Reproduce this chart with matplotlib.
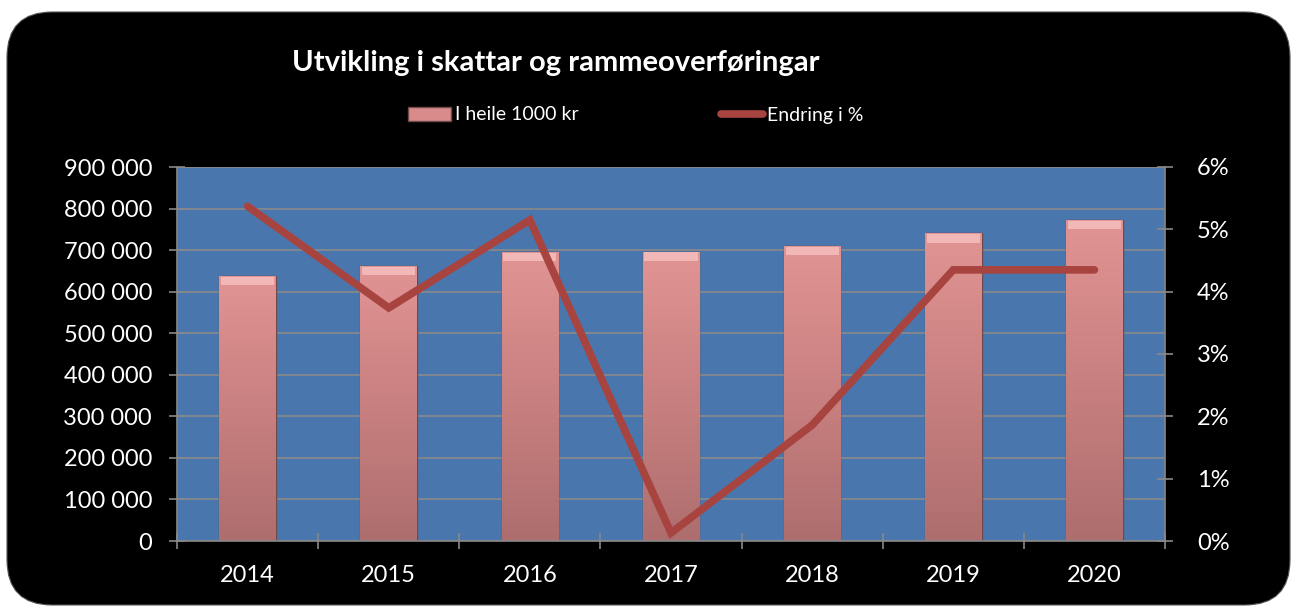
import matplotlib.pyplot as plt
import numpy as np
from matplotlib.patches import FancyBboxPatch
from matplotlib.lines import Line2D
from matplotlib.colors import LinearSegmentedColormap

years = ['2014', '2015', '2016', '2017', '2018', '2019', '2020']
amount = [637700, 661500, 695600, 696500, 709500, 740300, 772500]
change = [5.37, 3.74, 5.15, 0.13, 1.86, 4.35, 4.35]

plt.rcParams['font.family'] = ['Lato', 'DejaVu Sans']

fig = plt.figure(figsize=(12.93, 6.08), dpi=100)
fig.patch.set_facecolor('white')

# black rounded card behind everything
card = FancyBboxPatch((7/1293, 3/608), 1283/1293, 593/608,
                      boxstyle='round,pad=0,rounding_size=0.035',
                      transform=fig.transFigure, facecolor='black',
                      edgecolor='#555555', linewidth=0.8, mutation_aspect=1293/608,
                      zorder=-5)
fig.patches.append(card)

ax = fig.add_axes([177/1293, 1 - 541/608, 988/1293, 374/608])
ax.set_facecolor('#4A76AE')
x = np.arange(len(years))

bars = ax.bar(x, amount, width=0.40, color='#D98A8A', edgecolor='#6E4A4A',
              linewidth=1.0, zorder=2)

cmap = LinearSegmentedColormap.from_list('bar', ['#AE6E6E', '#C98080', '#E29494'])
grad = np.linspace(0, 1, 256).reshape(-1, 1)
for b in bars:
    x0, y0 = b.get_x(), b.get_y()
    w, h = b.get_width(), b.get_height()
    im = ax.imshow(grad, extent=(x0, x0 + w, y0, y0 + h), origin='lower',
                   cmap=cmap, aspect='auto', zorder=2.1)
    im.set_clip_path(b)
    # highlighted top bevel
    ax.fill_between([x0 + w * 0.03, x0 + w * 0.97], y0 + h - 22000, y0 + h - 2000,
                    color='#F2B8B8', zorder=2.2, linewidth=0)

ax.set_xlim(-0.5, len(years) - 0.5)
ax.set_ylim(0, 900000)
ax.set_yticks(np.arange(0, 900001, 100000))
ax.set_yticklabels([f'{v:,}'.replace(',', ' ') for v in range(0, 900001, 100000)])
ax.set_xticks(x)
ax.set_xticklabels(years)
ax.set_xticks(np.arange(-0.5, len(years), 1), minor=True)
ax.tick_params(axis='x', which='major', length=0, pad=17, colors='white', labelsize=17)
ax.tick_params(axis='x', which='minor', length=12, direction='inout', color='#888888', width=1.2)
ax.tick_params(axis='y', length=12, direction='inout', color='#888888', width=1.2,
               colors='white', labelsize=17, pad=12)
ax.grid(axis='y', color='#8A8A8A', linewidth=1.2, zorder=1)
ax.set_axisbelow(True)
for s in ['top', 'right']:
    ax.spines[s].set_visible(False)
for s in ['left', 'bottom']:
    ax.spines[s].set_color('#888888')
    ax.spines[s].set_linewidth(1.2)

ax2 = ax.twinx()
ax2.plot(x, change, color='#A84440', linewidth=5.5, solid_capstyle='round',
         solid_joinstyle='miter', zorder=3)
ax2.set_ylim(0, 6)
ax2.set_yticks(range(0, 7))
ax2.set_yticklabels([f'{v}%' for v in range(0, 7)])
ax2.tick_params(axis='y', length=12, direction='inout', color='#888888', width=1.2,
                labelcolor='white', labelsize=17, pad=17)
for s in ['top', 'left', 'bottom']:
    ax2.spines[s].set_visible(False)
ax2.spines['right'].set_color('#888888')
ax2.spines['right'].set_linewidth(1.2)

fig.text(556/1293, 1 - 63/608, 'Utvikling i skattar og rammeoverføringar',
         color='white', fontsize=21, fontweight='bold', ha='center', va='center')

handles = [plt.Rectangle((0, 0), 1, 1, facecolor='#D98A8A', edgecolor='#6E4A4A'),
           Line2D([0], [0], color='#A84440', linewidth=5.5, solid_capstyle='round')]
leg = fig.legend(handles, ['I heile 1000 kr', 'Endring i %'], ncol=2,
                 loc='center', bbox_to_anchor=(636/1293, 1 - 115/608),
                 frameon=False, fontsize=14, labelcolor='white',
                 handlelength=2.2, handletextpad=0.2, columnspacing=7.3)

fig.savefig('out.png', dpi=100, facecolor='white')
